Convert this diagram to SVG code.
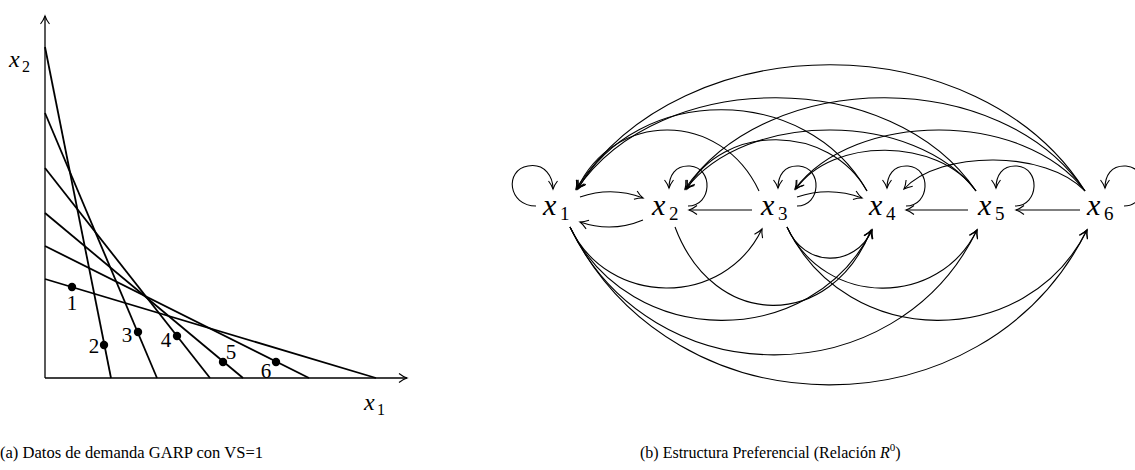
<svg xmlns="http://www.w3.org/2000/svg" width="1135" height="470" viewBox="0 0 1135 470">
<style>
.ax{stroke:#000;stroke-width:1.3;fill:none}
.bl{stroke:#000;stroke-width:1.8;fill:none}
.dot{fill:#000}
.lbl{font-family:"Liberation Serif",serif;font-size:21px;fill:#000}
.cap{font-family:"Liberation Serif",serif;font-size:17px;fill:#000}
.capb{font-family:"Liberation Serif",serif;font-size:16px;fill:#000}
.e{stroke:#000;stroke-width:1.1;fill:none;marker-end:url(#ar)}
.nx{font-family:"Liberation Serif",serif;font-style:italic;font-size:30px;fill:#000}
.ns{font-family:"Liberation Serif",serif;font-size:19px;fill:#000}
</style>
<defs>
<marker id="ar" viewBox="-10 -6 12 12" markerWidth="12" markerHeight="12" refX="0" refY="0" orient="auto" markerUnits="userSpaceOnUse">
<path d="M-8,-4.5 C-4.5,-1.8 -1.8,-0.6 0,0 C-1.8,0.6 -4.5,1.8 -8,4.5" fill="none" stroke="#000" stroke-width="1.1"/>
</marker>
</defs>
<g id="chart">
<line class="ax" x1="45" y1="378" x2="45" y2="16" marker-end="url(#ar)"/>
<line class="ax" x1="45" y1="378" x2="407" y2="378" marker-end="url(#ar)"/>
<line class="bl" x1="45" y1="47" x2="111" y2="378"/>
<line class="bl" x1="45" y1="113" x2="157" y2="378"/>
<line class="bl" x1="45" y1="168" x2="210" y2="378"/>
<line class="bl" x1="45" y1="213" x2="243" y2="378"/>
<line class="bl" x1="45" y1="246" x2="309" y2="378"/>
<line class="bl" x1="45" y1="279" x2="376" y2="378"/>
<circle class="dot" cx="72" cy="287" r="4.2"/>
<circle class="dot" cx="104" cy="345" r="4.2"/>
<circle class="dot" cx="138" cy="332" r="4.2"/>
<circle class="dot" cx="177" cy="336" r="4.2"/>
<circle class="dot" cx="223" cy="362" r="4.2"/>
<circle class="dot" cx="276" cy="362" r="4.2"/>
<text class="lbl" x="72" y="310" text-anchor="middle">1</text>
<text class="lbl" x="94" y="353" text-anchor="middle">2</text>
<text class="lbl" x="127" y="342" text-anchor="middle">3</text>
<text class="lbl" x="166" y="347" text-anchor="middle">4</text>
<text class="lbl" x="231" y="359" text-anchor="middle">5</text>
<text class="lbl" x="266" y="378" text-anchor="middle">6</text>
<text x="9" y="67" font-family="Liberation Serif,serif" font-style="italic" font-size="24">x</text>
<text x="22" y="72" font-family="Liberation Serif,serif" font-size="16">2</text>
<text x="364" y="410" font-family="Liberation Serif,serif" font-style="italic" font-size="24">x</text>
<text x="377" y="415" font-family="Liberation Serif,serif" font-size="16">1</text>
</g>
<g id="connectors">
<line class="e" x1="752" y1="210" x2="689" y2="210"/>
<line class="e" x1="968" y1="210" x2="906" y2="210"/>
<line class="e" x1="1080" y1="210" x2="1016" y2="210"/>
<path class="e" d="M580,197 Q612,186 643,198"/>
<path class="e" d="M643,220 Q612,233 580,222"/>
<path class="e" d="M797,197 Q830,186 862,198"/>
<path class="e" d="M536,206 C508,206 504,170 528,166 C545,163 553,177 553,189"/>
<path class="e" d="M688,206 C712,206 714,168 690,166 C675,165 669,176 669,188"/>
<path class="e" d="M797,206 C821,206 823,168 799,166 C784,165 778,176 778,188"/>
<path class="e" d="M906,206 C930,206 932,168 908,166 C893,165 887,176 887,188"/>
<path class="e" d="M1015,206 C1039,206 1041,168 1017,166 C1002,165 996,176 996,188"/>
<path class="e" d="M1124,206 C1148,206 1150,168 1126,166 C1111,165 1105,176 1105,188"/>
<path class="e" d="M1085,191 C978,23 683,23 576,189"/>
<path class="e" d="M976,191 C892,67 660,67 577,189"/>
<path class="e" d="M1085,191 C1001,67 769,67 685,189"/>
<path class="e" d="M867,191 C806,83 637,83 578,189"/>
<path class="e" d="M976,191 C915,110 746,110 686,189"/>
<path class="e" d="M1085,191 C1024,110 855,110 795,189"/>
<path class="e" d="M759,191 C721,110 614,110 577,189"/>
<path class="e" d="M867,191 C829,123 723,123 687,189"/>
<path class="e" d="M976,191 C938,137 832,137 796,189"/>
<path class="e" d="M1085,191 C1047,150 940,150 904,189"/>
<path class="e" d="M570,227 C608,308 724,308 762,229"/>
<path class="e" d="M570,227 C630,351 812,351 872,230"/>
<path class="e" d="M570,227 C651,397 896,397 977,230"/>
<path class="e" d="M570,227 C673,437 984,437 1087,230"/>
<path class="e" d="M675,227 C714,331 831,331 871,230"/>
<path class="e" d="M787,227 C804,268 855,268 872,230"/>
<path class="e" d="M787,227 C825,308 939,308 977,230"/>
<path class="e" d="M787,227 C847,351 1027,351 1087,230"/>
</g>
<g id="x1"><text class="nx" x="543" y="215">x</text><text class="ns" x="560" y="220">1</text></g>
<g id="x2"><text class="nx" x="652" y="215">x</text><text class="ns" x="669" y="220">2</text></g>
<g id="x3"><text class="nx" x="761" y="215">x</text><text class="ns" x="778" y="220">3</text></g>
<g id="x4"><text class="nx" x="869" y="215">x</text><text class="ns" x="886" y="220">4</text></g>
<g id="x5"><text class="nx" x="978" y="215">x</text><text class="ns" x="995" y="220">5</text></g>
<g id="x6"><text class="nx" x="1087" y="215">x</text><text class="ns" x="1104" y="220">6</text></g>
<g id="captions">
<text class="cap" x="0" y="458" textLength="263" lengthAdjust="spacingAndGlyphs">(a) Datos de demanda GARP con VS=1</text>
<text class="capb" x="640" y="458">(b) Estructura Preferencial (Relación <tspan font-style="italic">R</tspan><tspan font-size="11" dy="-7">0</tspan><tspan dy="7">)</tspan></text>
</g>
</svg>
